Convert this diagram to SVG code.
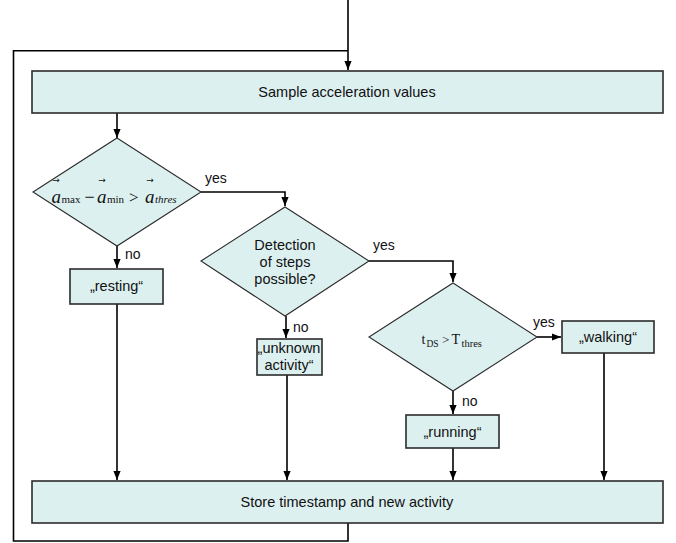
<svg xmlns="http://www.w3.org/2000/svg" width="676" height="543" viewBox="0 0 676 543">
<style>
.box{fill:#ddf0f0;stroke:#2b2b2b;stroke-width:1.6}
.dia{fill:#ddf0f0;stroke:#2b2b2b;stroke-width:1.1}
.con{fill:none;stroke:#000;stroke-width:1.6}
.arr{marker-end:url(#ah)}
.t{font-family:"Liberation Sans",Arial,sans-serif;font-size:14.5px;fill:#111;text-anchor:middle}
.lbl{font-family:"Liberation Sans",Arial,sans-serif;font-size:14px;fill:#111}
.m{font-family:"Liberation Serif","Times New Roman",serif;fill:#111}
.vec{font-family:"DejaVu Sans",sans-serif;font-size:9px;fill:#111;text-anchor:middle}
</style>
<defs>
<marker id="ah" viewBox="0 0 10 8" refX="10" refY="4" markerWidth="9" markerHeight="7.5" markerUnits="userSpaceOnUse" orient="auto">
<path d="M0,0 L10,4 L0,8 z" fill="#000"/>
</marker>
</defs>
<rect width="676" height="543" fill="#fff"/>

<g id="connectors">
<path class="con arr" d="M348,0 V70"/>
<path class="con" d="M348,523 V541 H13.5 V50.7 H348"/>
<path class="con arr" d="M117,113 V138"/>
<path class="con arr" d="M201,192 H285 V206"/>
<path class="con arr" d="M117,246 V268"/>
<path class="con arr" d="M117,304 V480"/>
<path class="con arr" d="M369,261 H453 V282"/>
<path class="con arr" d="M286,316 V338"/>
<path class="con arr" d="M287,375 V480"/>
<path class="con arr" d="M537,337 H561"/>
<path class="con arr" d="M453,391 V414"/>
<path class="con arr" d="M453,448 V480"/>
<path class="con arr" d="M604,353 V480"/>
<text class="lbl" x="205" y="183">yes</text>
<text class="lbl" x="125" y="259">no</text>
<text class="lbl" x="373" y="250">yes</text>
<text class="lbl" x="293" y="332">no</text>
<text class="lbl" x="533" y="327">yes</text>
<text class="lbl" x="462" y="406">no</text>
</g>

<g id="sample">
<rect class="box" x="32" y="71" width="631" height="42"/>
<text class="t" x="347" y="97">Sample acceleration values</text>
</g>

<g id="decision1">
<polygon class="dia" points="117,138 201,192 117,246 33,192"/>
<text class="vec" x="56" y="183">→</text>
<text class="m" x="51.5" y="203" font-size="19" font-style="italic">a</text>
<text class="m" x="61.5" y="203" font-size="11">max</text>
<text class="m" x="84.5" y="203" font-size="18">−</text>
<text class="vec" x="102" y="183">→</text>
<text class="m" x="97" y="203" font-size="19" font-style="italic">a</text>
<text class="m" x="107" y="203" font-size="11">min</text>
<text class="m" x="129" y="203" font-size="17">&gt;</text>
<text class="vec" x="150" y="183">→</text>
<text class="m" x="145" y="203" font-size="19" font-style="italic">a</text>
<text class="m" x="155" y="203" font-size="11" font-style="italic">thres</text>
</g>

<g id="resting">
<rect class="box" x="70" y="269" width="93" height="35"/>
<text class="t" x="116.5" y="291">„resting“</text>
</g>

<g id="decision2">
<polygon class="dia" points="285,207 369,261 285,316 201,261"/>
<text class="t" x="285" y="250" font-size="15">Detection</text>
<text class="t" x="285" y="267" font-size="15">of steps</text>
<text class="t" x="285" y="284" font-size="15">possible?</text>
</g>

<g id="unknown">
<rect class="box" x="257" y="339" width="65" height="36"/>
<text class="t" x="289" y="353" font-size="13.5">„unknown</text>
<text class="t" x="289" y="370" font-size="13.5">activity“</text>
</g>

<g id="decision3">
<polygon class="dia" points="453,283 537,337 453,391 369,337"/>
<text class="m" x="421.5" y="344" font-size="14">t</text>
<text class="m" x="426.5" y="347" font-size="9.5">DS</text>
<text class="m" x="442" y="344" font-size="13">&gt;</text>
<text class="m" x="451.5" y="344" font-size="14">T</text>
<text class="m" x="461.5" y="347" font-size="10.5">thres</text>
</g>

<g id="walking">
<rect class="box" x="562" y="321" width="92" height="32"/>
<text class="t" x="608" y="342">„walking“</text>
</g>

<g id="running">
<rect class="box" x="406" y="415" width="93" height="33"/>
<text class="t" x="452.5" y="436.5">„running“</text>
</g>

<g id="store">
<rect class="box" x="32" y="481" width="631" height="42"/>
<text class="t" x="347" y="507">Store timestamp and new activity</text>
</g>
</svg>
